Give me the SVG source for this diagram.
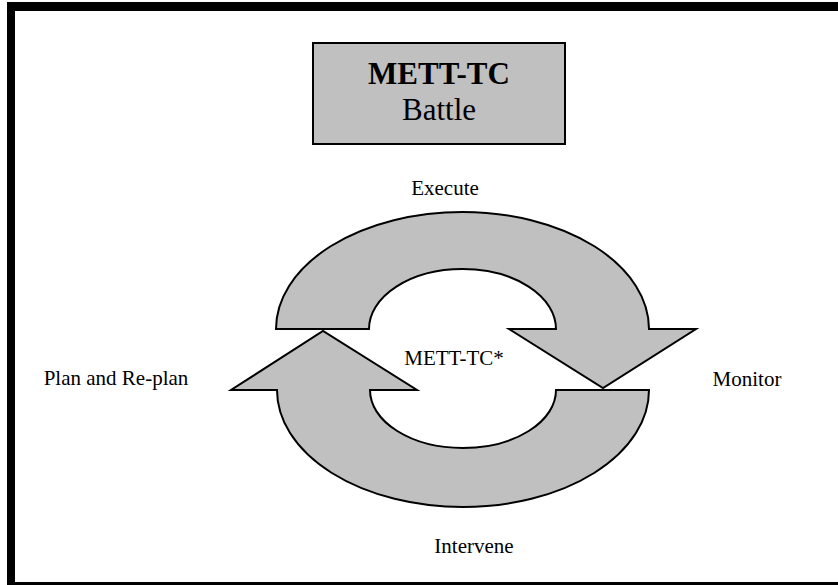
<svg xmlns="http://www.w3.org/2000/svg" width="838" height="585" viewBox="0 0 838 585">
  <style>
    .lbl { font-family: "Liberation Serif", "Times New Roman", serif; font-size: 21px; fill: #000; text-anchor: middle; }
    .title { font-family: "Liberation Serif", "Times New Roman", serif; font-size: 31px; fill: #000; text-anchor: middle; }
    .shape { fill: #c0c0c0; stroke: #000; stroke-width: 2; stroke-linejoin: miter; }
  </style>

  <!-- page background and heavy frame -->
  <rect x="0" y="0" width="838" height="585" fill="#fff"/>
  <path d="M7 2 H850 V600 H7 Z M15 11 V582 H850 V11 Z" fill="#000" fill-rule="evenodd"/>

  <!-- title box -->
  <g id="title-box">
    <rect class="shape" x="313" y="43" width="252" height="101"/>
    <text class="title" x="439" y="84" font-weight="bold">METT-TC</text>
    <text class="title" x="439" y="120">Battle</text>
  </g>

  <!-- cycle arrows -->
  <g id="connectors">
    <g id="arrow-execute">
      <path class="shape" d="M276 329 A186.5 117 0 0 1 649 329 L696 329 L603 388 L509 329 L556 329 A93.5 60 0 0 0 369 329 Z"/>
    </g>
    <g id="arrow-intervene">
      <path class="shape" d="M649 390 A186 117 0 0 1 277 390 L231 390 L323 331 L417 390 L370 390 A93 58 0 0 0 556 390 Z"/>
    </g>
  </g>

  <!-- stage labels -->
  <g id="label-execute"><text class="lbl" x="445" y="195">Execute</text></g>
  <g id="label-centre"><text class="lbl" x="454" y="365">METT-TC*</text></g>
  <g id="label-plan"><text class="lbl" x="116" y="385">Plan and Re-plan</text></g>
  <g id="label-monitor"><text class="lbl" x="747" y="386">Monitor</text></g>
  <g id="label-intervene"><text class="lbl" x="474" y="553">Intervene</text></g>
</svg>
